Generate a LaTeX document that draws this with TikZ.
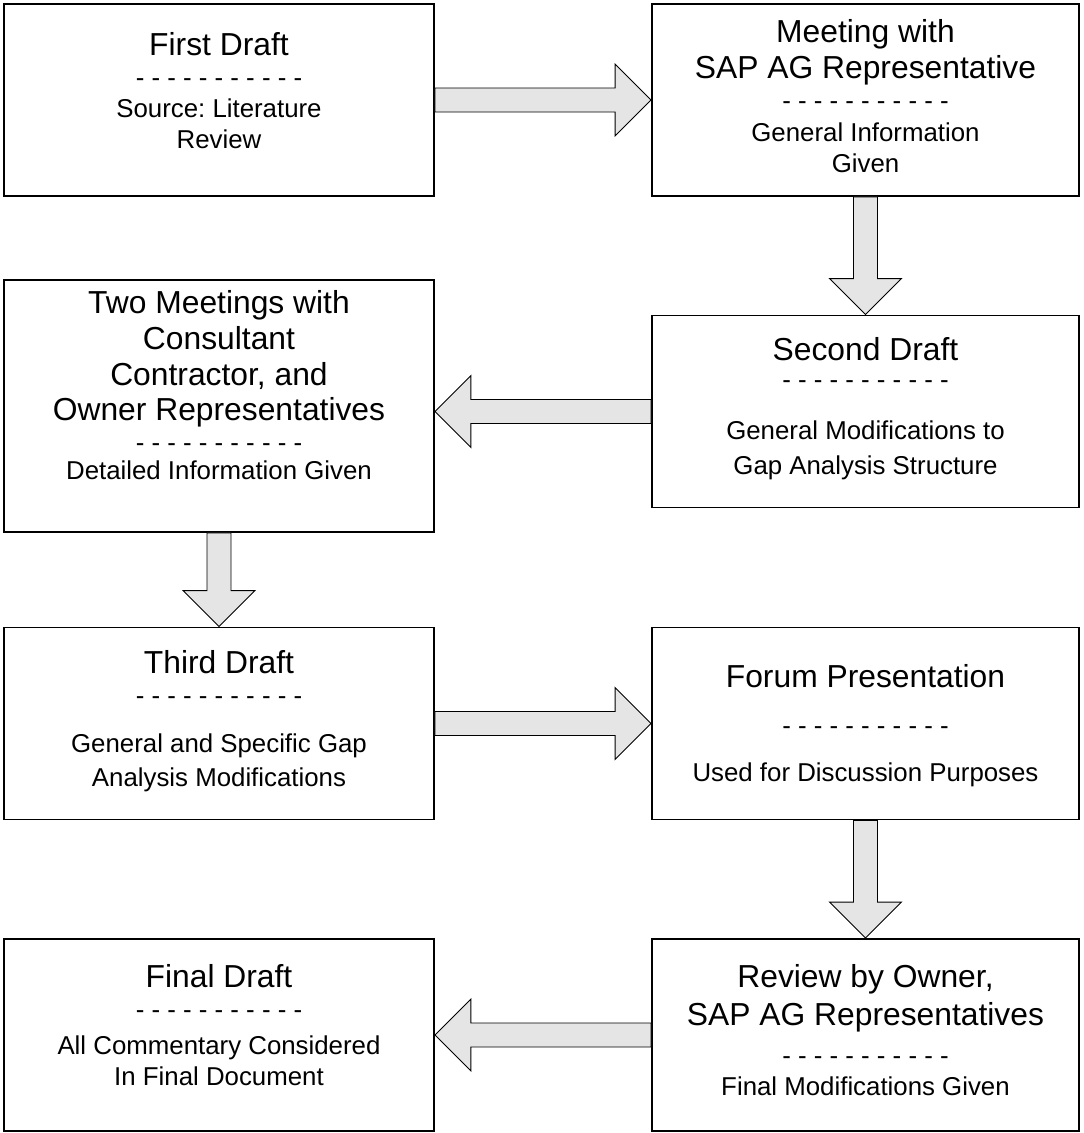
\documentclass[tikz,border=0pt]{standalone}
\usepackage{fontspec}
\setmainfont{Liberation Sans}
\frenchspacing
\usetikzlibrary{positioning,calc}
\newcommand\ttlfont{\fontsize{18.1pt}{21pt}\selectfont}
\newcommand\subfont{\fontsize{14.7pt}{17.6pt}\selectfont}
\newcommand\dashline{- - - - - - - - - - -}
% block arrow from #1 to #2 (tip at #2)
\newcommand\blockarrow[2]{%
  \coordinate (ba) at (#1);
  \coordinate (bb) at (#2);
  \coordinate (bh) at ($(bb)!0.72cm!(ba)$);
  \draw[blk] ($(ba)!0.24cm!90:(bb)$) -- ($(bh)!0.24cm!-90:(ba)$)
    -- ($(bh)!0.72cm!-90:(ba)$) -- (bb) -- ($(bh)!0.72cm!90:(ba)$)
    -- ($(bh)!0.24cm!90:(ba)$) -- ($(ba)!0.24cm!-90:(bb)$) -- cycle;}

\begin{document}
\begin{tikzpicture}[x=0.02cm,y=-0.02cm,
  box/.style={draw,line width=1.1pt,minimum height=3.84cm,inner sep=0pt},
  lbox/.style={box,minimum width=8.6cm},
  rbox/.style={box,minimum width=8.54cm},
  txt/.style={align=center,inner sep=0pt,font=\subfont},
  blk/.style={draw=black,fill=black!10,line width=0.5pt,line join=miter}]

\useasboundingbox (0,0) rectangle (1083,1133);

% ---------------- boxes ------------------------------------------------------
\node[lbox] (first)  at (219,100)    {};
\node[rbox] (meet)   at (865.5,100)  {};
\node[lbox,minimum height=5.04cm] (mtgs) at (219,406) {};
\node[rbox] (second) at (865.5,411.5) {};
\node[lbox] (third)  at (219,723.5)  {};
\node[rbox] (forum)  at (865.5,723.5) {};
\node[lbox] (final)  at (219,1035)   {};
\node[rbox] (review) at (865.5,1035) {};

% ---------------- texts ------------------------------------------------------
\node[txt,below=0.58cm of first.north] (firstT)
  {{\ttlfont First Draft}\\ \dashline\\ Source: Literature\\ Review};
\node[txt,below=0.32cm of meet.north] (meetT)
  {{\ttlfont Meeting with}\\[2.8pt] {\ttlfont SAP AG Representative}\\ \dashline\\[1pt]
   General Information\\ Given};
\node[txt,below=0.22cm of mtgs.north] (mtgsT)
  {{\ttlfont Two Meetings with}\\[2.8pt] {\ttlfont Consultant}\\[2.8pt]
   {\ttlfont Contractor, and}\\[2.8pt] {\ttlfont Owner Representatives}\\ \dashline\\[-2pt]
   Detailed Information Given};
\node[txt,below=0.46cm of second.north] (secondT)
  {{\ttlfont Second Draft}\\[-1.7pt] \dashline\\[11.3pt] General Modifications to\\[2.3pt]
   Gap Analysis Structure};
\node[txt,below=0.48cm of third.north] (thirdT)
  {{\ttlfont Third Draft}\\ \dashline\\[9.6pt] General and Specific Gap\\[1.7pt]
   Analysis Modifications};
\node[txt,below=0.76cm of forum.north] (forumT)
  {{\ttlfont Forum Presentation}\\[9pt] \dashline\\[9pt] Used for Discussion Purposes};
\node[txt,below=0.52cm of final.north] (finalT)
  {{\ttlfont Final Draft}\\ \dashline\\[2.8pt] All Commentary Considered\\ In Final Document};
\node[txt,below=0.52cm of review.north] (reviewT)
  {{\ttlfont Review by Owner,}\\[4pt] {\ttlfont SAP AG Representatives}\\[4.5pt] \dashline\\
   Final Modifications Given};

% ---------------- block arrows ----------------------------------------------
\blockarrow{first.east}{first.east -| meet.west}
\blockarrow{meet.south}{meet.south |- second.north}
\blockarrow{second.west}{second.west -| mtgs.east}
\blockarrow{mtgs.south}{mtgs.south |- third.north}
\blockarrow{third.east}{third.east -| forum.west}
\blockarrow{forum.south}{forum.south |- review.north}
\blockarrow{review.west}{review.west -| final.east}

\end{tikzpicture}
\end{document}
